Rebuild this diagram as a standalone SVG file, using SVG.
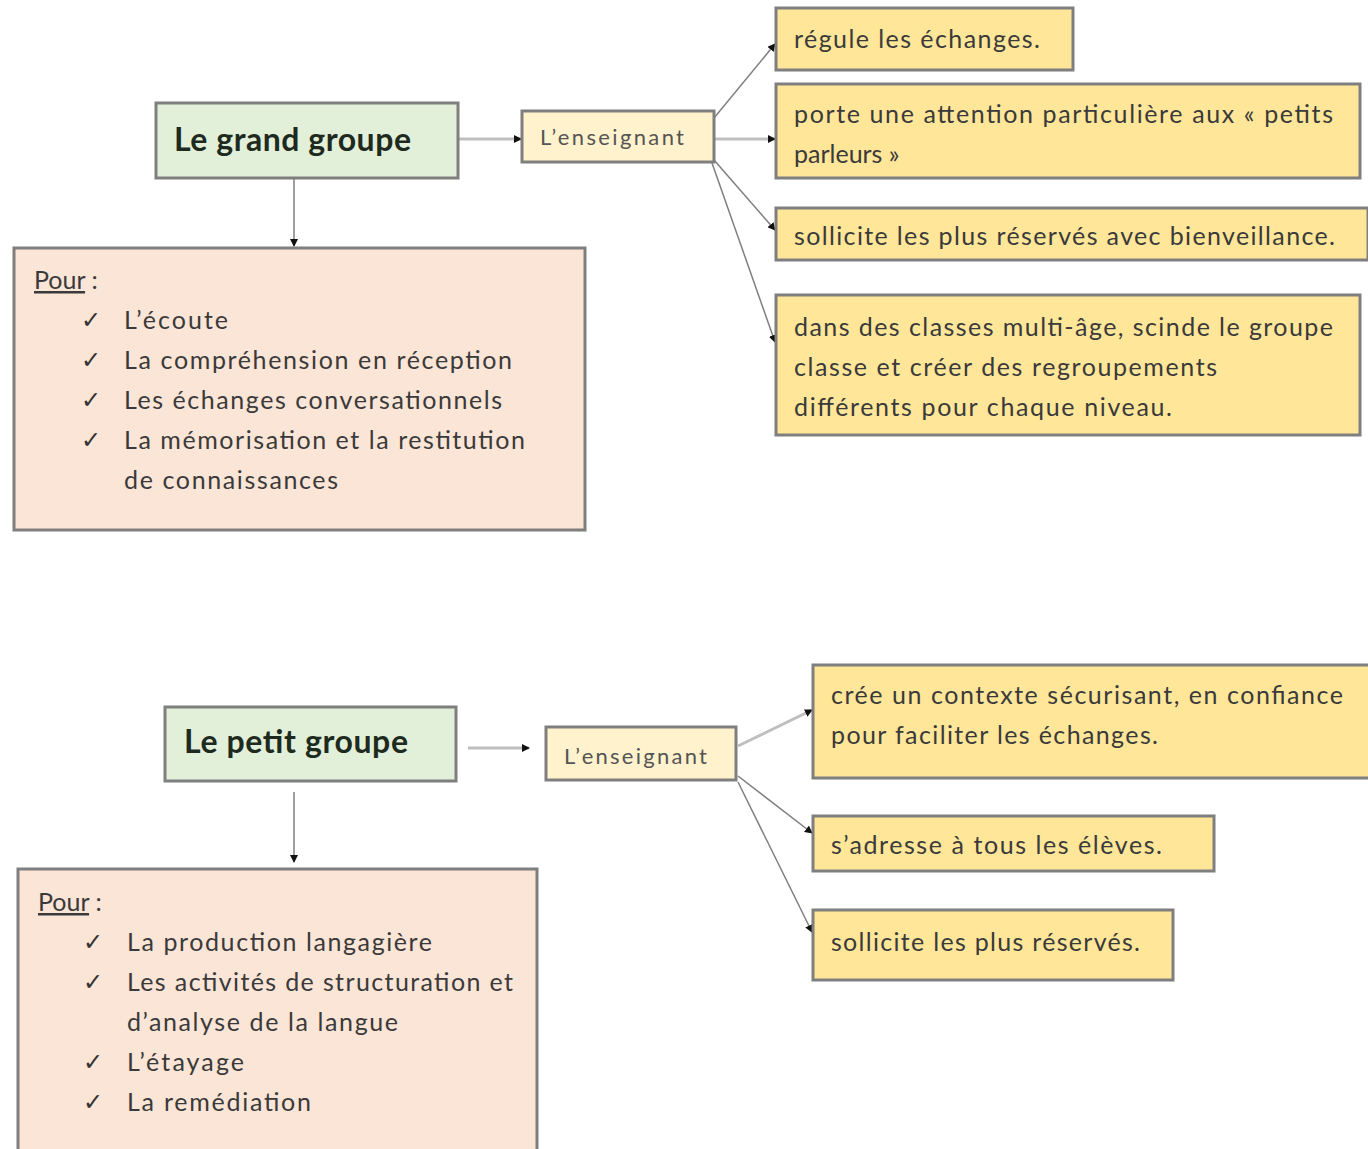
<svg xmlns="http://www.w3.org/2000/svg" width="1368" height="1149" viewBox="0 0 1368 1149">
<style>
text{font-family:Lato,"Open Sans","Liberation Sans",sans-serif;fill:#3a3a3a}
.title{font-size:32px;font-weight:bold;fill:#1f2a1f}
.small{font-size:22px;fill:#555}
.t{font-size:25px}
.chk{font-family:"DejaVu Sans",sans-serif;font-size:24px;fill:#333}
.green{fill:#e2f0d9;stroke:#7f7f7f;stroke-width:3}
.cream{fill:#fff2cc;stroke:#7f7f7f;stroke-width:3}
.yellow{fill:#ffe699;stroke:#7f7f7f;stroke-width:3}
.pink{fill:#fbe5d6;stroke:#7f7f7f;stroke-width:3}
.c{stroke:#7f7f7f;stroke-width:1.5;fill:none;marker-end:url(#ah)}
.cw{stroke:#bfbfbf;stroke-width:3;fill:none;marker-end:url(#ah)}
</style>
<defs>
<marker id="ah" markerWidth="8" markerHeight="8" refX="7" refY="4" orient="auto" markerUnits="userSpaceOnUse"><path d="M0,0 L8,4 L0,8 z" fill="#111"/></marker>
</defs>
<rect width="1368" height="1149" fill="#fff"/>

<g id="connectors">
<line class="cw" x1="458" y1="139" x2="521" y2="139"/>
<line class="c" x1="294" y1="179" x2="294" y2="246"/>
<line class="c" x1="714" y1="118" x2="775" y2="44"/>
<line class="cw" x1="714" y1="139" x2="775" y2="139"/>
<line class="c" x1="714" y1="160" x2="775" y2="230"/>
<line class="c" x1="712" y1="163" x2="775" y2="342"/>
<line class="cw" x1="468" y1="748" x2="529" y2="748"/>
<line class="c" x1="294" y1="792" x2="294" y2="862"/>
<line class="cw" x1="738" y1="746" x2="812" y2="710"/>
<line class="c" x1="738" y1="776" x2="812" y2="833"/>
<line class="c" x1="738" y1="782" x2="812" y2="932"/>
</g>

<g id="grand-groupe"><rect class="green" x="156" y="103" width="302" height="75"/><text class="title" x="174" y="151" textLength="237" lengthAdjust="spacing">Le grand groupe</text></g>
<g id="enseignant-1"><rect class="cream" x="522" y="111" width="192" height="51"/><text class="small" x="540" y="145" textLength="144" lengthAdjust="spacing">L’enseignant</text></g>
<g id="r1"><rect class="yellow" x="776" y="8" width="297" height="62"/><text class="t" x="794" y="48" textLength="246" lengthAdjust="spacing">régule les échanges.</text></g>
<g id="r2"><rect class="yellow" x="776" y="84" width="584" height="94"/><text class="t" x="794" y="123" textLength="539" lengthAdjust="spacing">porte une attention particulière aux « petits</text><text class="t" x="794" y="163">parleurs »</text></g>
<g id="r3"><rect class="yellow" x="776" y="208" width="592" height="52"/><text class="t" x="794" y="245" textLength="541" lengthAdjust="spacing">sollicite les plus réservés avec bienveillance.</text></g>
<g id="r4"><rect class="yellow" x="776" y="295" width="584" height="140"/><text class="t" x="794" y="336" textLength="539" lengthAdjust="spacing">dans des classes multi-âge, scinde le groupe</text><text class="t" x="794" y="376" textLength="423" lengthAdjust="spacing">classe et créer des regroupements</text><text class="t" x="794" y="416" textLength="378" lengthAdjust="spacing">différents pour chaque niveau.</text></g>
<g id="pour-1"><rect class="pink" x="14" y="248" width="571" height="282"/>
<text class="t" x="34" y="289"><tspan text-decoration="underline">Pour</tspan> :</text>
<text class="chk" x="81" y="328">✓</text><text class="t" x="124" y="329" textLength="104" lengthAdjust="spacing">L’écoute</text>
<text class="chk" x="81" y="368">✓</text><text class="t" x="124" y="369" textLength="388" lengthAdjust="spacing">La compréhension en réception</text>
<text class="chk" x="81" y="408">✓</text><text class="t" x="124" y="409" textLength="378" lengthAdjust="spacing">Les échanges conversationnels</text>
<text class="chk" x="81" y="448">✓</text><text class="t" x="124" y="449" textLength="401" lengthAdjust="spacing">La mémorisation et la restitution</text>
<text class="t" x="124" y="489" textLength="214" lengthAdjust="spacing">de connaissances</text>
</g>

<g id="petit-groupe"><rect class="green" x="165" y="707" width="291" height="74"/><text class="title" x="184" y="753" textLength="224" lengthAdjust="spacing">Le petit groupe</text></g>
<g id="enseignant-2"><rect class="cream" x="546" y="727" width="190" height="53"/><text class="small" x="564" y="764" textLength="143" lengthAdjust="spacing">L’enseignant</text></g>
<g id="p1"><rect class="yellow" x="813" y="665" width="560" height="113"/><text class="t" x="831" y="704" textLength="512" lengthAdjust="spacing">crée un contexte sécurisant, en confiance</text><text class="t" x="831" y="744" textLength="327" lengthAdjust="spacing">pour faciliter les échanges.</text></g>
<g id="p2"><rect class="yellow" x="813" y="816" width="401" height="55"/><text class="t" x="831" y="854" textLength="331" lengthAdjust="spacing">s’adresse à tous les élèves.</text></g>
<g id="p3"><rect class="yellow" x="813" y="910" width="360" height="70"/><text class="t" x="831" y="951" textLength="309" lengthAdjust="spacing">sollicite les plus réservés.</text></g>
<g id="pour-2"><rect class="pink" x="18" y="869" width="519" height="290"/>
<text class="t" x="38" y="911"><tspan text-decoration="underline">Pour</tspan> :</text>
<text class="chk" x="83" y="950">✓</text><text class="t" x="127" y="951" textLength="305" lengthAdjust="spacing">La production langagière</text>
<text class="chk" x="83" y="990">✓</text><text class="t" x="127" y="991" textLength="386" lengthAdjust="spacing">Les activités de structuration et</text>
<text class="t" x="127" y="1031" textLength="271" lengthAdjust="spacing">d’analyse de la langue</text>
<text class="chk" x="83" y="1070">✓</text><text class="t" x="127" y="1071" textLength="117" lengthAdjust="spacing">L’étayage</text>
<text class="chk" x="83" y="1110">✓</text><text class="t" x="127" y="1111" textLength="184" lengthAdjust="spacing">La remédiation</text>
</g>
</svg>
